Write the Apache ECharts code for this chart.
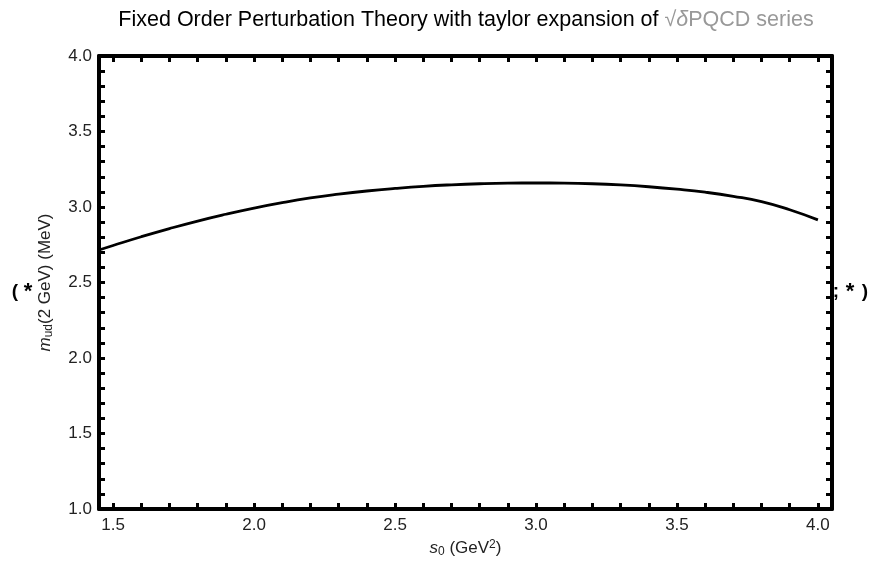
<!DOCTYPE html>
<html>
<head>
<meta charset="utf-8">
<script src="https://cdn.jsdelivr.net/npm/echarts@6/dist/echarts.min.js"></script>
<style>
html,body{margin:0;padding:0;background:#fff;}
#chart{width:869px;height:573px;}
</style>
</head>
<body>
<div id="chart"></div>
<script>
// ---- data ----
const s0Values = [1.45, 1.5, 1.6, 1.7, 1.8, 1.9, 2.0, 2.1, 2.2, 2.3, 2.4, 2.5, 2.6, 2.7, 2.8, 2.9, 3.0, 3.1, 3.2, 3.3, 3.4, 3.5, 3.6, 3.7, 3.8, 3.9, 4.0];
const mudValues = [2.715, 2.745, 2.803, 2.857, 2.907, 2.952, 2.993, 3.029, 3.060, 3.085, 3.106, 3.123, 3.137, 3.147, 3.154, 3.158, 3.159, 3.158, 3.154, 3.146, 3.134, 3.118, 3.098, 3.071, 3.036, 2.982, 2.915];

const xLabelTicks = [1.5, 2.0, 2.5, 3.0, 3.5, 4.0];
const xMinorTicks = [1.5, 1.6, 1.7, 1.8, 1.9, 2.0, 2.1, 2.2, 2.3, 2.4, 2.5, 2.6, 2.7, 2.8, 2.9, 3.0, 3.1, 3.2, 3.3, 3.4, 3.5, 3.6, 3.7, 3.8, 3.9, 4.0];
const yLabelTicks = [1.0, 1.5, 2.0, 2.5, 3.0, 3.5, 4.0];
const yMinorTicks = [1.0, 1.1, 1.2, 1.3, 1.4, 1.5, 1.6, 1.7, 1.8, 1.9, 2.0, 2.1, 2.2, 2.3, 2.4, 2.5, 2.6, 2.7, 2.8, 2.9, 3.0, 3.1, 3.2, 3.3, 3.4, 3.5, 3.6, 3.7, 3.8, 3.9, 4.0];

const titleMain = 'Fixed Order Perturbation Theory with taylor expansion of ';
const titleSqrt = '√';
const titleDelta = 'δ';
const titleRest = 'PQCD series';

const FONT = '"Liberation Sans", Arial, sans-serif';
const LABEL_SIZE = 17;
const TITLE_SIZE = 21.5;

const chart = echarts.init(document.getElementById('chart'), null, {renderer: 'canvas'});

const frameLine = {show: true, lineStyle: {color: '#000', width: 4}};
const frameTick = (vals) => ({show: true, inside: true, length: 6, customValues: vals, lineStyle: {color: '#000', width: 3}});
const labelStyle = {color: '#222', fontFamily: FONT, fontSize: LABEL_SIZE};

const option = {
  animation: false,
  backgroundColor: '#fff',
  grid: {left: 99, top: 56, right: 37, bottom: 64, containLabel: false},
  xAxis: [
    {
      type: 'value', position: 'bottom', min: 1.45, max: 4.05,
      axisLine: frameLine,
      axisTick: frameTick(xMinorTicks),
      axisLabel: Object.assign({customValues: xLabelTicks, margin: 8, formatter: v => v.toFixed(1)}, labelStyle),
      splitLine: {show: false},
      name: '{i|s}{sub|0} (GeV{sup|2})',
      nameLocation: 'middle', nameGap: 28,
      nameTextStyle: {
        color: '#222', fontFamily: FONT, fontSize: LABEL_SIZE,
        rich: {
          i: {fontStyle: 'italic', fontFamily: FONT, fontSize: LABEL_SIZE, color: '#222'},
          sub: {fontSize: 12, fontFamily: FONT, color: '#222', verticalAlign: 'bottom', padding: [7, 0, 0, 0]},
          sup: {fontSize: 12, fontFamily: FONT, color: '#222', verticalAlign: 'top', padding: [0, 0, 7, 0]}
        }
      }
    },
    {
      type: 'value', position: 'top', min: 1.45, max: 4.05,
      axisLine: frameLine,
      axisTick: frameTick(xMinorTicks),
      axisLabel: {show: false},
      splitLine: {show: false}
    }
  ],
  yAxis: [
    {
      type: 'value', position: 'left', min: 1, max: 4,
      axisLine: frameLine,
      axisTick: frameTick(yMinorTicks),
      axisLabel: Object.assign({customValues: yLabelTicks, margin: 7, formatter: v => v.toFixed(1)}, labelStyle),
      splitLine: {show: false},
      name: '{i|m}{sub|ud}(2 GeV) (MeV)',
      nameLocation: 'middle', nameGap: 44, nameRotate: 90,
      nameTextStyle: {
        color: '#222', fontFamily: FONT, fontSize: LABEL_SIZE,
        rich: {
          i: {fontStyle: 'italic', fontFamily: FONT, fontSize: LABEL_SIZE, color: '#222'},
          sub: {fontSize: 12, fontFamily: FONT, color: '#222', verticalAlign: 'bottom', padding: [7, 0, 0, 0]}
        }
      }
    },
    {
      type: 'value', position: 'right', min: 1, max: 4,
      axisLine: frameLine,
      axisTick: frameTick(yMinorTicks),
      axisLabel: {show: false},
      splitLine: {show: false}
    }
  ],
  series: [{
    type: 'line',
    xAxisIndex: 0, yAxisIndex: 0,
    data: s0Values.map((s, i) => [s, mudValues[i]]),
    smooth: true,
    showSymbol: false,
    lineStyle: {color: '#000', width: 2.8},
    clip: true
  }],
  graphic: [
    {
      type: 'text', x: 466, y: 20, z: 10,
      style: {
        text: '{a|' + titleMain + '}{g|' + titleSqrt + '}{gi|' + titleDelta + '}{g|' + titleRest + '}',
        align: 'center', verticalAlign: 'middle',
        rich: {
          a: {fontFamily: FONT, fontSize: TITLE_SIZE, fill: '#000'},
          g: {fontFamily: FONT, fontSize: TITLE_SIZE, fill: '#999'},
          gi: {fontFamily: FONT, fontSize: TITLE_SIZE, fill: '#999', fontStyle: 'italic'}
        }
      }
    },
    {type: 'text', x: 15, y: 292, z: 10, style: {text: '(', fontFamily: FONT, fontSize: 19, fontWeight: 'bold', fill: '#000', align: 'center', verticalAlign: 'middle'}},
    {type: 'text', x: 28, y: 292, z: 10, style: {text: '*', fontFamily: FONT, fontSize: 22, fontWeight: 'bold', fill: '#000', align: 'center', verticalAlign: 'middle'}},
    {type: 'text', x: 836, y: 292, z: 10, style: {text: ';', fontFamily: FONT, fontSize: 19, fontWeight: 'bold', fill: '#000', align: 'center', verticalAlign: 'middle'}},
    {type: 'text', x: 850, y: 292, z: 10, style: {text: '*', fontFamily: FONT, fontSize: 22, fontWeight: 'bold', fill: '#000', align: 'center', verticalAlign: 'middle'}},
    {type: 'text', x: 865, y: 292, z: 10, style: {text: ')', fontFamily: FONT, fontSize: 19, fontWeight: 'bold', fill: '#000', align: 'center', verticalAlign: 'middle'}}
  ]
};
chart.setOption(option);
</script>
</body>
</html>
